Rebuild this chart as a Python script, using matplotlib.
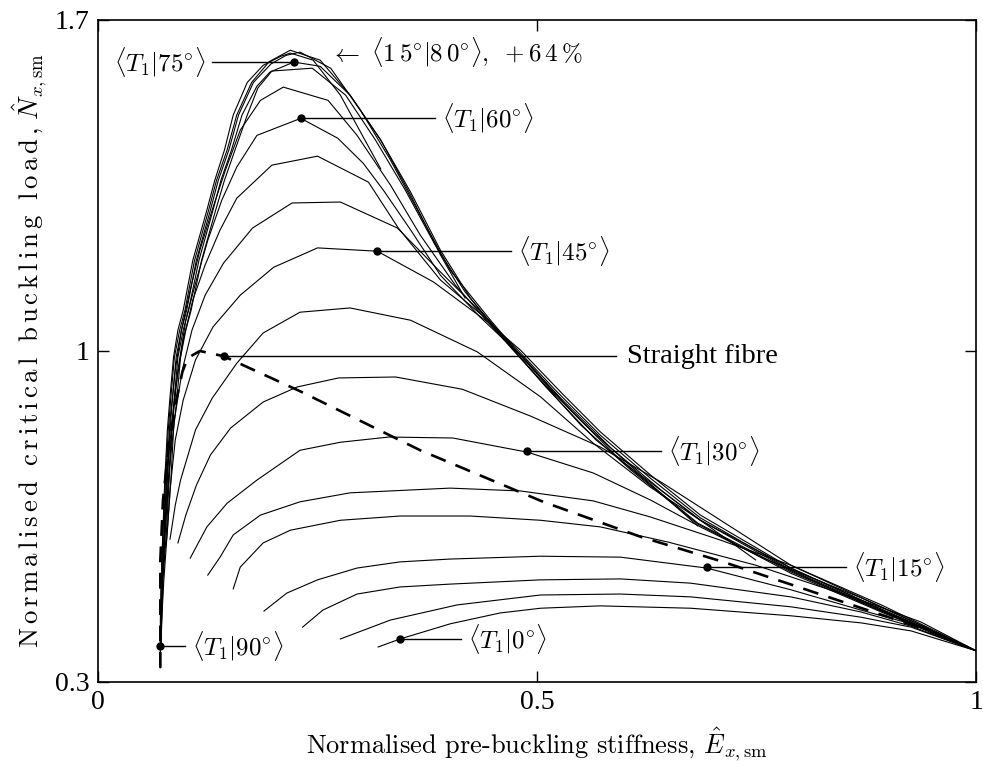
import matplotlib
matplotlib.use('Agg')
import matplotlib.pyplot as plt

plt.rcParams['mathtext.fontset'] = 'cm'

# <T1|theta> curves, theta in degrees -> (stiffness, buckling load)
x00 = [.319, .344, .401, .458, .504, .572, .675, .789, .869, .926, 1.0]
y00 = [.374, .391, .423, .446, .456, .461, .456, .440, .425, .408, .366]
x05 = [.276, .333, .409, .504, .595, .675, .789, .869, .926, 1.0]
y05 = [.391, .431, .463, .484, .486, .480, .459, .437, .416, .366]
x10 = [.233, .256, .295, .344, .401, .504, .595, .675, .789, .869, .926, 1.0]
y10 = [.416, .452, .486, .501, .507, .516, .518, .509, .480, .448, .418, .366]
x15 = [.189, .215, .250, .295, .344, .401, .504, .595, .693, .789, .869, .926, 1.0]
y15 = [.450, .488, .516, .541, .554, .560, .566, .564, .541, .495, .452, .423, .366]
x20 = [.154, .162, .188, .219, .276, .344, .424, .504, .572, .649, .749, .869, .937, 1.0]
y20 = [.497, .543, .594, .621, .642, .651, .651, .642, .628, .596, .547, .473, .427, .366]
x25 = [.125, .139, .154, .185, .230, .287, .401, .481, .564, .629, .709, .789, .892, 1.0]
y25 = [.526, .564, .611, .653, .681, .700, .710, .704, .683, .649, .600, .547, .463, .366]
x30 = [.105, .124, .147, .181, .230, .276, .331, .404, .489, .564, .629, .686, .755, .869, 1.0]
y30 = [.562, .628, .678, .727, .790, .807, .818, .816, .786, .742, .685, .628, .564, .478, .366]
x35 = [.091, .100, .112, .128, .151, .188, .227, .274, .339, .415, .493, .572, .641, .709, .789, .892, 1.0]
y35 = [.594, .653, .716, .780, .837, .892, .924, .943, .945, .919, .862, .797, .723, .642, .547, .459, .366]
x40 = [.082, .088, .094, .111, .130, .158, .188, .230, .287, .356, .432, .504, .564, .629, .686, .789, .892, 1.0]
y40 = [.602, .674, .727, .833, .900, .974, 1.038, 1.082, 1.091, 1.065, .998, .903, .805, .712, .642, .541, .454, .366]
x45 = [.078, .079, .082, .088, .097, .111, .131, .162, .200, .250, .318, .382, .444, .481, .527, .572, .629, .686, .789, .892, 1.0]
y45 = [.600, .621, .706, .812, .896, .981, 1.051, 1.118, 1.177, 1.218, 1.211, 1.146, 1.061, 1.002, .913, .829, .738, .653, .541, .454, .366]
x50 = [.075, .076, .080, .087, .096, .107, .122, .143, .176, .221, .276, .341, .390, .436, .478, .521, .572, .629, .686, .789, .892, 1.0]
y50 = [.558, .600, .727, .854, .960, 1.044, 1.118, 1.186, 1.260, 1.313, 1.315, 1.260, 1.167, 1.082, 1.002, .917, .822, .731, .647, .537, .452, .366]
x55 = [.074, .076, .081, .088, .097, .108, .122, .139, .158, .198, .250, .308, .342, .390, .444, .481, .527, .584, .641, .686, .789, .892, 1.0]
y55 = [.526, .664, .790, .917, 1.023, 1.108, 1.182, 1.256, 1.323, 1.393, 1.412, 1.357, 1.260, 1.150, 1.065, .991, .900, .795, .706, .642, .535, .450, .366]
x60 = [.073, .074, .079, .084, .091, .100, .112, .125, .141, .158, .181, .231, .273, .302, .325, .356, .390, .436, .487, .538, .595, .683, .789, .892, 1.0]
y60 = [.473, .558, .685, .833, .960, 1.065, 1.150, 1.234, 1.319, 1.389, 1.456, 1.492, 1.450, 1.397, 1.340, 1.256, 1.160, 1.070, .981, .875, .769, .636, .533, .450, .366]
x65 = [.072, .074, .078, .082, .088, .095, .105, .116, .130, .145, .162, .185, .211, .262, .295, .333, .367, .407, .447, .493, .550, .607, .683, .789, .892, 1.0]
y65 = [.435, .558, .727, .854, .960, 1.044, 1.129, 1.213, 1.298, 1.382, 1.467, 1.530, 1.558, 1.530, 1.456, 1.351, 1.245, 1.139, 1.055, .960, .843, .748, .634, .530, .448, .366]
x70 = [.072, .075, .079, .083, .086, .090, .094, .100, .106, .118, .134, .144, .156, .170, .182, .198, .244, .282, .316, .350, .384, .418, .458, .504, .561, .618, .686, .749]
y70 = [.414, .516, .621, .727, .833, .903, .987, 1.044, 1.086, 1.192, 1.298, 1.361, 1.425, 1.499, 1.556, 1.592, 1.598, 1.541, 1.446, 1.340, 1.224, 1.125, 1.034, .938, .833, .738, .642, .558]
x75 = [.072, .074, .078, .081, .084, .087, .091, .097, .103, .115, .131, .140, .152, .164, .181, .196, .223, .253, .287, .322, .356, .390, .424, .464, .510, .567, .624, .683]
y75 = [.393, .516, .621, .727, .833, .903, .987, 1.044, 1.086, 1.192, 1.298, 1.361, 1.425, 1.499, 1.560, 1.590, 1.611, 1.602, 1.541, 1.446, 1.336, 1.213, 1.112, 1.023, .924, .812, .727, .630]
x80 = [.072, .073, .076, .079, .082, .085, .089, .095, .101, .112, .128, .137, .149, .160, .177, .197, .214, .230, .265, .299, .333, .367, .401, .447, .481, .521]
y80 = [.372, .516, .621, .727, .833, .903, .987, 1.044, 1.086, 1.192, 1.298, 1.361, 1.425, 1.499, 1.568, 1.607, 1.625, 1.632, 1.598, 1.509, 1.404, 1.287, 1.171, 1.065, .991, .907]
x85 = [.071, .072, .074, .077, .080, .083, .087, .093, .099, .110, .126, .135, .147, .158, .175, .195, .219, .253, .287, .322, .356, .390, .418]
y85 = [.350, .516, .621, .727, .833, .903, .987, 1.044, 1.086, 1.192, 1.298, 1.361, 1.425, 1.499, 1.568, 1.612, 1.636, 1.615, 1.541, 1.446, 1.330, 1.203, 1.112]
x90 = [.071, .071, .072, .074, .076, .079, .082, .086, .091, .097, .108, .124, .133, .144, .154, .170, .188, .208, .219, .245, .276, .301, .322]
y90 = [.330, .431, .516, .621, .727, .833, .903, .987, 1.044, 1.086, 1.192, 1.298, 1.361, 1.425, 1.499, 1.568, 1.604, 1.623, 1.630, 1.615, 1.541, 1.456, 1.385]

# straight fibre laminates
x_sf = [.071, .071, .074, .080, .088, .096, .102, .116, .143, .230, .367, .507, .618, .712, .828, .944, 1.0]
y_sf = [.330, .558, .685, .790, .886, .955, .985, 1.000, .989, .915, .790, .681, .607, .554, .482, .410, .366]

# labelled points: marker position, end of the leader line, label text
lab_text = [r'$\langle T_1|75^{\circ}\rangle$', r'$\langle T_1|60^{\circ}\rangle$',
            r'$\langle T_1|45^{\circ}\rangle$', 'Straight fibre',
            r'$\langle T_1|30^{\circ}\rangle$', r'$\langle T_1|15^{\circ}\rangle$',
            r'$\langle T_1|0^{\circ}\rangle$', r'$\langle T_1|90^{\circ}\rangle$']
lab_x = [.223, .231, .318, .143, .489, .693, .344, .071]
lab_y = [1.611, 1.492, 1.211, .989, .788, .543, .391, .376]
lead_x = [.130, .384, .470, .590, .641, .852, .413, .099]
best_note = r'$\leftarrow\ \langle 1\,5^{\circ}|8\,0^{\circ}\rangle,\ +6\,4\,\%$'

curves = [(x00, y00), (x05, y05), (x10, y10), (x15, y15), (x20, y20),
          (x25, y25), (x30, y30), (x35, y35), (x40, y40), (x45, y45),
          (x50, y50), (x55, y55), (x60, y60), (x65, y65), (x70, y70),
          (x75, y75), (x80, y80), (x85, y85), (x90, y90)]


def spaced(s):
    # letter-spaced roman text inside mathtext
    out = []
    for c in s:
        out.append(r'\ ' if c == ' ' else r'\text{' + c + '}')
    return r'\,'.join(out)


fig = plt.figure(figsize=(9.83, 7.65), dpi=100)
ax = fig.add_axes([0.0997, 0.1085, 0.8933, 0.8654])

for xs, ys in curves:
    ax.plot(xs, ys, color='black', lw=0.8)
ax.plot(x_sf, y_sf, color='black', lw=1.9, dashes=(6, 4))

for txt, mx, my, lx in zip(lab_text, lab_x, lab_y, lead_x):
    ax.plot([mx, lx], [my, my], color='black', lw=1.0)
    ax.plot(mx, my, 'o', color='black', ms=5)
    if lx < mx:
        ax.text(lx - 0.008, my, txt, ha='right', va='center', fontsize=18)
    elif txt == 'Straight fibre':
        ax.text(lx + 0.012, my, txt, ha='left', va='center', fontsize=20.5,
                family='Liberation Serif')
    else:
        ax.text(lx + 0.008, my, txt, ha='left', va='center', fontsize=18)
ax.text(0.264, 1.632, best_note, ha='left', va='center', fontsize=18)

ax.set_xlim(0, 1)
ax.set_ylim(0.3, 1.7)
ax.set_xticks([0, 0.5, 1])
ax.set_yticks([0.3, 1, 1.7])
ax.set_xticklabels(['0', '0.5', '1'], family='Liberation Serif', fontsize=20)
ax.set_yticklabels(['0.3', '1', '1.7'], family='Liberation Serif', fontsize=20)
ax.tick_params(direction='in', top=True, right=True, length=8, width=1, pad=6)
for sp in ax.spines.values():
    sp.set_linewidth(1.2)

ax.set_xlabel('Normalised pre-buckling stiffness, $\\hat{E}_{x,\\mathrm{sm}}$',
              family='cmr10', fontsize=19, labelpad=7)
ax.set_ylabel('$' + spaced('Normalised critical buckling load,')
              + r'\ \hat{N}_{x,\mathrm{sm}}$', fontsize=19.3, labelpad=5)

fig.savefig('out.png', dpi=100)
